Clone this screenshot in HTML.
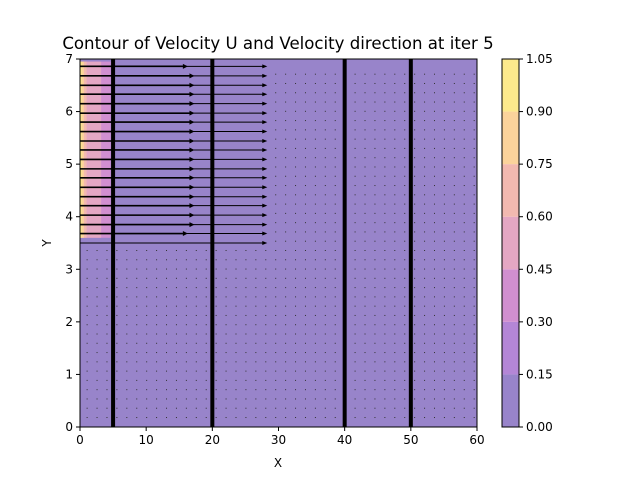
<!DOCTYPE html>
<html><head><meta charset="utf-8"><style>
body{margin:0;background:#fff;font-family:"Liberation Sans","DejaVu Sans",sans-serif}
svg text{font-family:"DejaVu Sans","Liberation Sans",sans-serif;fill:#000}
</style></head><body>
<svg id="c" width="640" height="480" xmlns="http://www.w3.org/2000/svg">
<rect width="640" height="480" fill="#fff"/>
<g id="plot"></g>
<g id="axes"></g>
<g id="cbar"></g>
<text x="278" y="49" font-size="16.6" text-anchor="middle">Contour of Velocity U and Velocity direction at iter 5</text>
<text x="278" y="467" font-size="12" text-anchor="middle">X</text>
<text x="51" y="243" font-size="12" text-anchor="middle" transform="rotate(-90 51 243)">Y</text>
</svg>
<script>
const levels=[0,0.15,0.30,0.45,0.60,0.75,0.90,1.05];
const levelColors=["#9884ca","#b486d6","#d18fd0","#e4a7c3","#f2b9b0","#fbd39b","#fce98c"];
const xTicks=[0,10,20,30,40,50,60];
const yTicks=[0,1,2,3,4,5,6,7];
const wallX=[5,20,40,50];
const arrowRowsY=[3.5,3.68,3.85,4.03,4.21,4.38,4.56,4.74,4.91,5.09,5.27,5.44,5.62,5.8,5.97,6.15,6.33,6.5,6.68,6.86];
const arrowEndX=[28,28,28,28,28,28,28,28,28,28,28,28,28,28,28,28,28,28,28,28];
const strongEndX=[0,16,17,17,17,17,17,17,17,17,17,17,17,17,17,17,17,17,17,16];
const NS="http://www.w3.org/2000/svg";
const X0=80,X1=477,Y0=427,Y1=59;
const sx=v=>X0+v*(X1-X0)/60, sy=v=>Y0-v*(Y0-Y1)/7;
function mk(p,t,a){const e=document.createElementNS(NS,t);for(const k in a)e.setAttribute(k,a[k]);p.appendChild(e);return e;}
const plot=document.getElementById('plot'),axes=document.getElementById('axes'),cb=document.getElementById('cbar');
let r=mk(plot,'rect',{x:X0,y:Y1,width:X1-X0,height:Y0-Y1,fill:levelColors[0]});

const bands=[[5.3,levelColors[1]],[4.6,levelColors[2]],[3.2,levelColors[3]],[1.0,levelColors[4]],[0.6,levelColors[5]],[0.25,levelColors[6]]];
bands.forEach((b,i)=>{let e=mk(plot,'rect',{x:sx(0),y:sy(6.95),width:sx(b[0])-sx(0),height:sy(3.6)-sy(6.95),fill:b[1]});
});
for(let xv=1;xv<60;xv+=1.5)for(let k=0;k<38;k++){const yv=0.19+k*0.1765;
 if(xv<29&&yv>3.45)continue;
 mk(plot,'rect',{x:sx(xv),y:sy(yv),width:1,height:1,fill:'#333'});}
arrowRowsY.forEach((yv,i)=>{
 let l=mk(plot,'line',{x1:sx(0),y1:sy(yv),x2:sx(arrowEndX[i]),y2:sy(yv),stroke:'#000','stroke-width':1});
 
 mk(plot,'path',{d:`M${sx(arrowEndX[i])+2},${sy(yv)} l-5,-2 v4z`,fill:'#000'});
 if(strongEndX[i]>0){mk(plot,'line',{x1:sx(0),y1:sy(yv),x2:sx(strongEndX[i]),y2:sy(yv),stroke:'#000','stroke-width':1.6});
  mk(plot,'path',{d:`M${sx(strongEndX[i])+2},${sy(yv)} l-5,-2.5 v5z`,fill:'#000'});}
});
wallX.forEach(w=>{let e=mk(plot,'line',{x1:sx(w),y1:Y1,x2:sx(w),y2:Y0,stroke:'#000','stroke-width':4});
 });
mk(axes,'rect',{x:X0,y:Y1,width:X1-X0,height:Y0-Y1,fill:'none',stroke:'#000','stroke-width':1});
xTicks.forEach(t=>{mk(axes,'line',{x1:sx(t),y1:Y0,x2:sx(t),y2:Y0+4,stroke:'#000'});
 let e=mk(axes,'text',{x:sx(t),y:Y0+17,'font-size':12,'text-anchor':'middle'});e.textContent=t;
 });
yTicks.forEach(t=>{mk(axes,'line',{x1:X0-4,y1:sy(t),x2:X0,y2:sy(t),stroke:'#000'});
 let e=mk(axes,'text',{x:X0-7,y:sy(t)+4,'font-size':12,'text-anchor':'end'});e.textContent=t;
 });
const C0=502,C1=519,cy=v=>Y0-v*(Y0-Y1)/1.05;
levelColors.forEach((c,i)=>{let e=mk(cb,'rect',{x:C0,y:cy(levels[i+1]),width:C1-C0,height:cy(levels[i])-cy(levels[i+1]),fill:c});
 });
mk(cb,'rect',{x:C0,y:Y1,width:C1-C0,height:Y0-Y1,fill:'none',stroke:'#000'});
levels.forEach(v=>{mk(cb,'line',{x1:C1,y1:cy(v),x2:C1+4,y2:cy(v),stroke:'#000'});
 let e=mk(cb,'text',{x:C1+7,y:cy(v)+4,'font-size':12});e.textContent=v.toFixed(2);
 });
</script>
</body></html>
